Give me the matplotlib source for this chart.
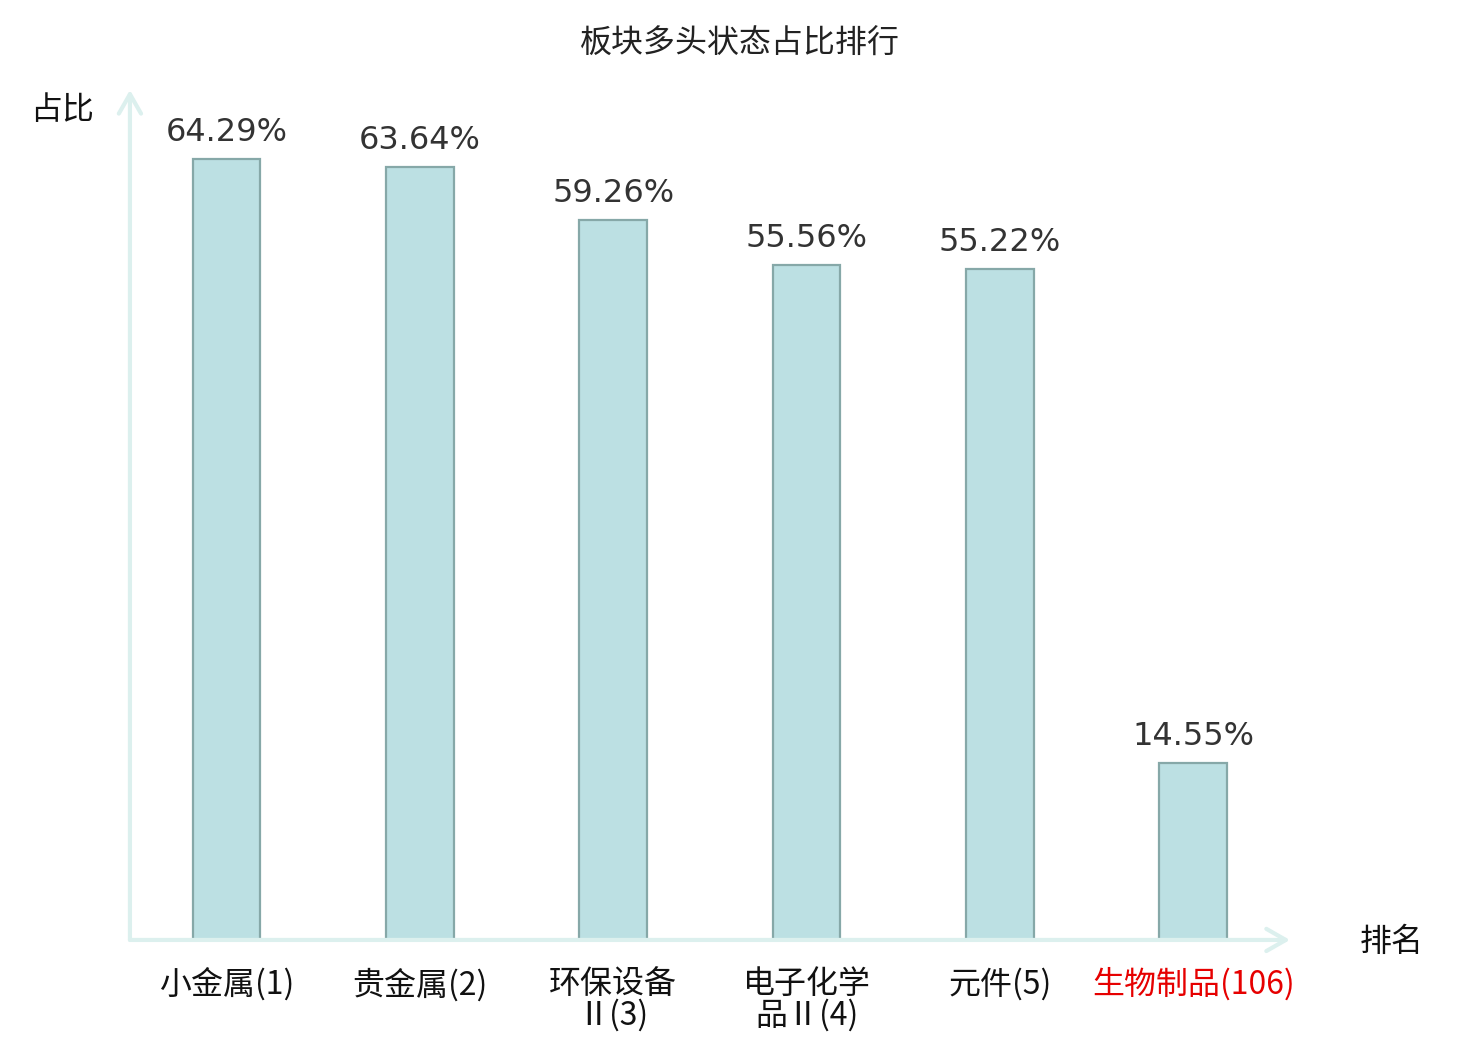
import matplotlib
matplotlib.use("Agg")
import matplotlib.pyplot as plt

plt.rcParams['font.family'] = ['Noto Sans CJK SC', 'DejaVu Sans']

categories = ["小金属(1)", "贵金属(2)", "环保设备\nⅡ(3)", "电子化学\n品Ⅱ(4)", "元件(5)", "生物制品(106)"]
values = [64.29, 63.64, 59.26, 55.56, 55.22, 14.55]
label_colors = ["#111111"] * 5 + ["#e60000"]

axis_color = "#dcf0ee"
bar_face = "#bce0e3"
bar_edge = "#86a8a8"

fig = plt.figure(figsize=(7.4, 5.2), dpi=200)
ax = fig.add_axes([0.0878, 0.0962, 0.7838, 0.8173])

x = list(range(len(categories)))
ax.bar(x, values, width=0.35, color=bar_face, edgecolor=bar_edge, linewidth=0.8, zorder=2)

for xi, v in zip(x, values):
    ax.annotate(f"{v:.2f}%", (xi, v), xytext=(0, 4), textcoords="offset points",
                ha="center", va="bottom", fontsize=11.5, color="#333333",
                family="DejaVu Sans")

ax.set_xlim(-0.5, 5.5)
ax.set_ylim(0, 70)
ax.set_yticks([])
ax.set_xticks(x)
ax.set_xticklabels(categories, fontsize=11.5, linespacing=0.95)
for lbl, c in zip(ax.get_xticklabels(), label_colors):
    lbl.set_color(c)
ax.tick_params(axis="x", length=0, pad=10)
for s in ax.spines.values():
    s.set_visible(False)

# axis arrows
arrow = dict(arrowstyle="->,head_length=0.7,head_width=0.4", color=axis_color, lw=1.5,
             shrinkA=0, shrinkB=0)
ax.annotate("", xy=(0, 1.0), xytext=(0, 0), xycoords="axes fraction",
            arrowprops=arrow, annotation_clip=False)
ax.annotate("", xy=(1.0, 0), xytext=(0, 0), xycoords="axes fraction",
            arrowprops=arrow, annotation_clip=False)

fig.text(0.042, 0.894, "占比", fontsize=11.5, ha="center", va="center", color="#111111")
fig.text(0.94, 0.094, "排名", fontsize=11.5, ha="center", va="center", color="#111111")
fig.suptitle("板块多头状态占比排行", x=0.5, y=0.958, fontsize=11.5, color="#222222", va="center")

fig.savefig("out.png", dpi=200)
